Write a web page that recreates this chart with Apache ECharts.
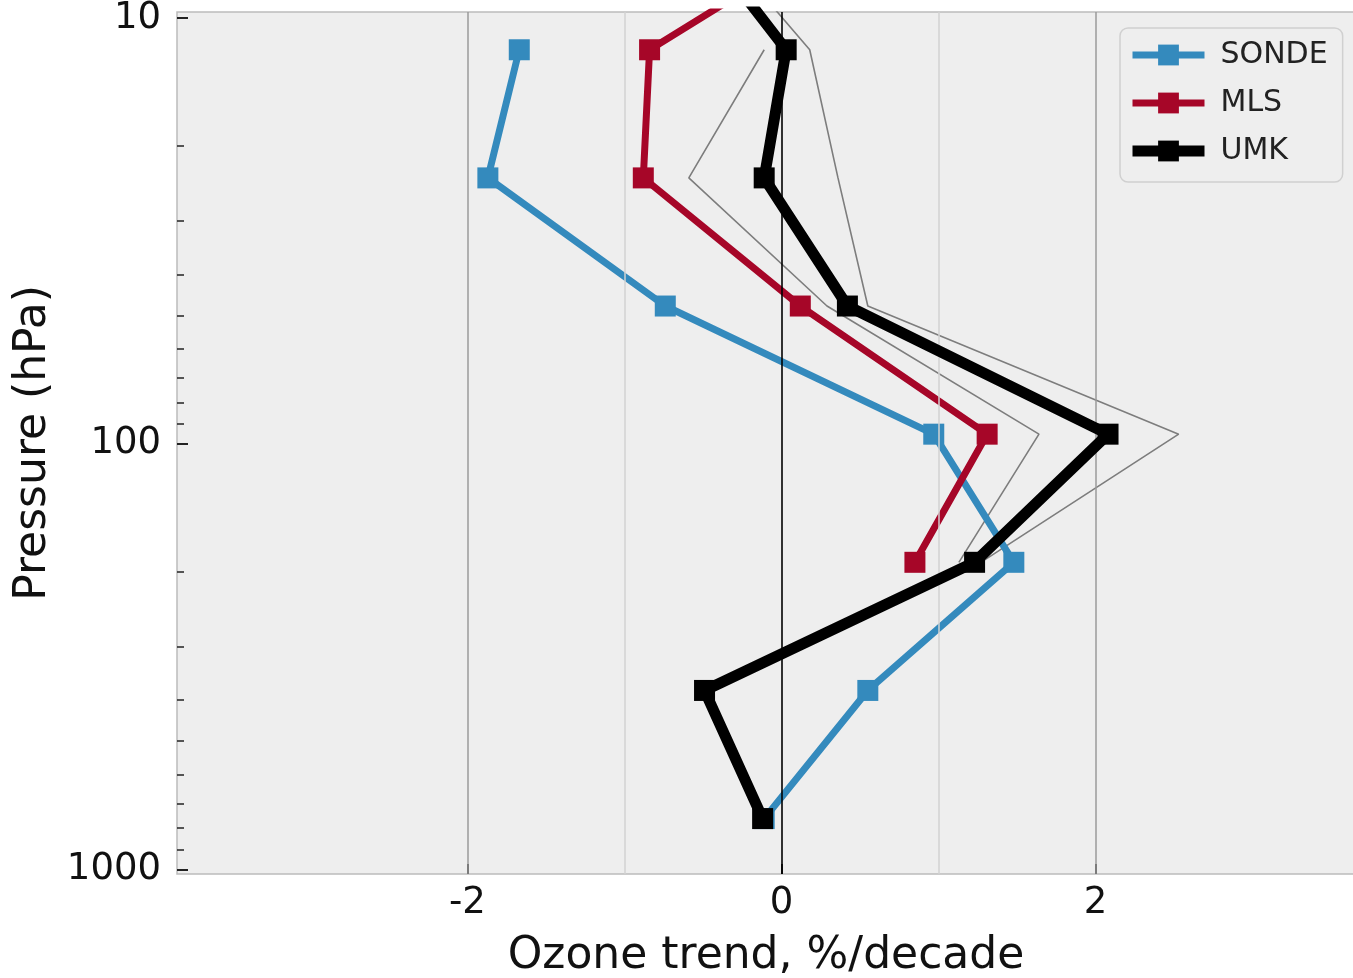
<!DOCTYPE html>
<html>
<head>
<meta charset="utf-8">
<script src="https://cdn.jsdelivr.net/npm/echarts@6/dist/echarts.min.js"></script>
<style>html,body{margin:0;padding:0;background:#fff;overflow:hidden}#c{width:1353px;height:978px}</style>
</head>
<body>
<div id="c"></div>
<script>
// Umkehr layer mean pressures (hPa), layers 0..7
const pressure = [760, 380, 190, 95, 47.5, 23.75, 11.875, 5.9375];
// Ozone trends, %/decade (null = no value)
const sonde   = [-0.11, 0.55, 1.48, 0.97, -0.74, -1.87, -1.67, null];
const mls     = [null, null, 0.85, 1.31, 0.12, -0.88, -0.84, 0.48];
const umk     = [-0.12, -0.49, 1.23, 2.08, 0.42, -0.11, 0.03, -0.60];
const umkLow  = [null, null, 1.13, 1.64, 0.29, -0.59, -0.11, null];
const umkHigh = [null, null, 1.27, 2.53, 0.55, 0.36, 0.18, -0.52];

const xTickLabels = [-2, 0, 2];
const yTickLabels = [10, 100, 1000];
const yMinorTicks = [20, 30, 40, 50, 60, 70, 80, 90, 200, 300, 400, 500, 600, 700, 800, 900];
const majorGrid = [-2, 2];
const minorGrid = [-1, 1];
const zeroLine = [0];

const FONT = 'DejaVu Sans';

function pairs(vals) {
  const out = [];
  vals.forEach((v, i) => { if (v !== null) out.push([v, pressure[i]]); });
  return out;
}

const gridLines = []
  .concat(minorGrid.map(v => ({ xAxis: v, lineStyle: { color: '#d2d2d2', width: 1.5, type: 'solid' } })))
  .concat(majorGrid.map(v => ({ xAxis: v, lineStyle: { color: '#9a9a9a', width: 1.5, type: 'solid' } })))
  .concat(zeroLine.map(v => ({ xAxis: v, lineStyle: { color: '#000000', width: 1.6, type: 'solid' } })));

const yBase = { type: 'log', logBase: 10, min: 9.681, max: 1025.7, inverse: true, position: 'left',
  axisLine: { show: false, onZero: false }, splitLine: { show: false } };

const chart = echarts.init(document.getElementById('c'), null, { renderer: 'canvas' });
chart.setOption({
  animation: false,
  backgroundColor: '#ffffff',
  grid: { left: 177, right: -2, top: 12, bottom: 104, show: true, backgroundColor: '#eeeeee',
          borderColor: '#bcbcbc', borderWidth: 1.5, containLabel: false, outerBoundsMode: 'none' },
  xAxis: {
    type: 'value', min: -3.85, max: 3.653,
    name: 'Ozone trend, %/decade', nameLocation: 'middle', nameGap: 61,
    nameTextStyle: { fontSize: 44, fontFamily: FONT, color: '#111' },
    axisLine: { show: false, onZero: false }, splitLine: { show: false },
    axisTick: { show: true, inside: true, length: 10, customValues: xTickLabels, lineStyle: { color: '#222', width: 2 } },
    axisLabel: { show: true, customValues: xTickLabels, margin: 11, fontSize: 37, fontFamily: FONT, color: '#111',
                 formatter: v => String(Math.round(v)) }
  },
  yAxis: [
    Object.assign({}, yBase, {
      name: 'Pressure (hPa)', nameLocation: 'middle', nameGap: 120, nameRotate: 90,
      nameTextStyle: { fontSize: 44, fontFamily: FONT, color: '#111' },
      axisTick: { show: true, inside: true, length: 11, customValues: yTickLabels, lineStyle: { color: '#222', width: 2 } },
      axisLabel: { show: true, customValues: yTickLabels, margin: 16, fontSize: 37, fontFamily: FONT, color: '#111',
                   formatter: v => String(Math.round(v)) }
    }),
    Object.assign({}, yBase, {
      axisTick: { show: true, inside: true, length: 7, customValues: yMinorTicks, lineStyle: { color: '#222', width: 1.5 } },
      axisLabel: { show: false }
    })
  ],
  legend: {
    orient: 'vertical', left: 1120, top: 28, padding: [12, 15, 16, 7],
    itemWidth: 72, itemHeight: 26, itemGap: 18,
    backgroundColor: '#eeeeee', borderColor: '#d0d0d0', borderWidth: 1.5, borderRadius: 8,
    textStyle: { fontSize: 30, fontFamily: FONT, color: '#222', padding: [0, 0, 0, 11] },
    data: [
      { name: 'SONDE', lineStyle: { width: 7 } },
      { name: 'MLS', lineStyle: { width: 7 } },
      { name: 'UMK', lineStyle: { width: 11 } }
    ]
  },
  series: [
    { name: 'grid', type: 'line', data: [], silent: true, z: 1,
      markLine: { silent: true, symbol: ['none', 'none'], label: { show: false }, data: gridLines, animation: false } },
    { name: 'UMK low', type: 'line', data: pairs(umkLow), showSymbol: false, z: 2,
      lineStyle: { color: '#7d7d7d', width: 1.6 }, itemStyle: { color: '#7d7d7d' } },
    { name: 'UMK high', type: 'line', data: pairs(umkHigh), showSymbol: false, z: 2,
      lineStyle: { color: '#7d7d7d', width: 1.6 }, itemStyle: { color: '#7d7d7d' } },
    { name: 'SONDE', type: 'line', data: pairs(sonde), symbol: 'rect', symbolSize: 21, z: 3,
      lineStyle: { color: '#348ABD', width: 7, join: 'round' }, itemStyle: { color: '#348ABD' } },
    { name: 'MLS', type: 'line', data: pairs(mls), symbol: 'rect', symbolSize: 21, z: 4,
      lineStyle: { color: '#A60628', width: 7, join: 'round' }, itemStyle: { color: '#A60628' } },
    { name: 'UMK', type: 'line', data: pairs(umk), symbol: 'rect', symbolSize: 21, z: 5,
      lineStyle: { color: '#000000', width: 11, join: 'round' }, itemStyle: { color: '#000000' } }
  ]
});
</script>
</body>
</html>
